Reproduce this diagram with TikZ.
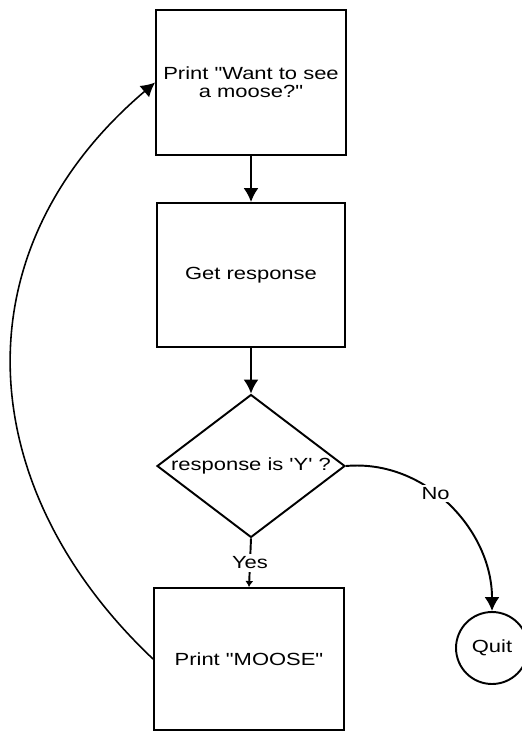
\documentclass[tikz,border=0pt]{standalone}
\usepackage{fontspec}
\newfontfamily\chartfont{Liberation Sans}[FakeStretch=1.25]
\usetikzlibrary{arrows.meta,shapes.geometric}

\begin{document}
\begin{tikzpicture}[x=0.02cm,y=-0.02cm,line width=1.1pt,
  font=\chartfont\fontsize{10}{10}\selectfont,
  stepbox/.style={draw,rectangle,align=center,inner sep=0pt},
  decision/.style={draw,diamond,inner sep=0pt,minimum width=3.76cm,minimum height=2.86cm},
  endpoint/.style={draw,circle,inner sep=0pt,minimum size=1.44cm},
  flow/.style={-{Latex[length=0.28cm,width=0.3cm]}},
  tag/.style={fill=white,inner sep=1.5pt}]
\useasboundingbox (0,0) rectangle (521,732);
\node[stepbox,minimum width=3.8cm,minimum height=2.9cm] (ask) at (251,82.5) {Print "Want to see\\a moose?"};
\node[stepbox,minimum width=3.76cm,minimum height=2.88cm] (get) at (251,275) {Get response};
\node[decision,label=center:{response is 'Y' ?}] (check) at (251,466) {};
\node[stepbox,minimum width=3.8cm,minimum height=2.84cm] (moose) at (249,659) {Print "MOOSE"};
\node[endpoint] (quit) at (492,648) {Quit};
\draw[flow] (ask.south) -- (get.north);
\draw[flow] (get.south) -- (check.north);
\draw[-{Latex[length=0.12cm,width=0.16cm]}] (check.south) -- node[tag]{Yes} (moose.north);
\draw[flow] (check.east) to[out=5,in=90] node[tag,pos=0.42]{No} (quit.north);
\draw[flow,line width=0.9pt] (moose.west) .. controls +(-180,-170) and +(-200,170) .. (ask.west);
\end{tikzpicture}
\end{document}
